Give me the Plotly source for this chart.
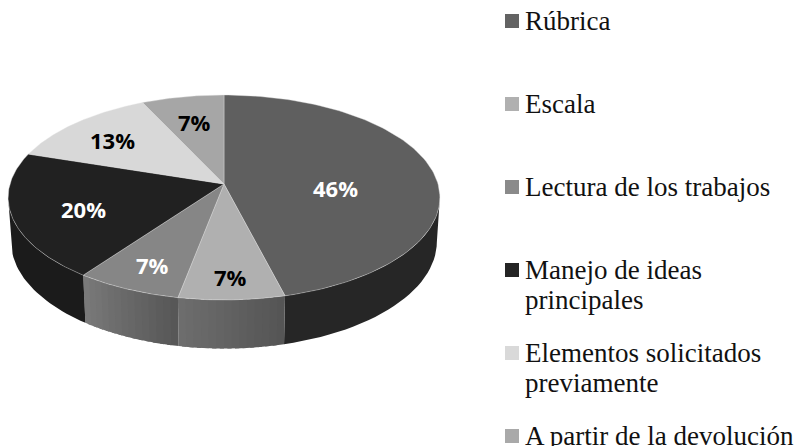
import numpy as np
import plotly.graph_objects as go

# ---- data ----
categories = ["Rúbrica", "Escala", "Lectura de los trabajos",
              "Manejo de ideas<br>principales",
              "Elementos solicitados<br>previamente",
              "A partir de la devolución"]
values = [46, 7, 7, 20, 13, 7]

# ---- styles ----
top_colors = ["#5f5f5f", "#b0b0b0", "#868686", "#212121", "#d8d8d8", "#a6a6a6"]
wall_left = [(38, 38, 38), (110, 110, 110), (122, 122, 122), (27, 27, 27), (200, 200, 200), (150, 150, 150)]
wall_right = [(38, 38, 38), (84, 84, 84), (86, 86, 86), (27, 27, 27), (200, 200, 200), (150, 150, 150)]
swatch_colors = ["#636363", "#b0b0b0", "#8a8a8a", "#242424", "#d9d9d9", "#a9a9a9"]
label_colors = ["white", "black", "white", "white", "black", "black"]
label_radius = [0.52, 0.82, 0.79, 0.68, 0.72, 0.69]
label_shift = [11.5, 0, -1, -2.6, -1.3, 0.2]

CX, CY, A, B, K = 224, 184, 214, 100.7, 0.1317
H, M = 44.5, 0.014
VIS_FROM, VIS_TO = 97.6, 262.4
LEG_SWATCH_X, LEG_TEXT_X = 512, 523
LEG_Y = [21, 104, 187, 270, 353, 436]
LINE_H = 30


def project(deg, r=1.0, z=0.0):
    t = np.radians(deg)
    u, v = r * np.sin(t), -r * np.cos(t)
    d = 1 - K * v + (M if z else 0)
    return CX + A * u / d, CY + (B * v + z * H) / d


total = sum(values)
edges = np.cumsum([0] + values) / total * 360
fig = go.Figure()


def poly(xs, ys, color, lw=0.0, line=None):
    fig.add_trace(go.Scatter(x=xs, y=ys, mode="lines", fill="toself", fillcolor=color,
                             line=dict(color=line or color, width=lw),
                             hoverinfo="skip", showlegend=False))


# side walls, in thin strips so that the shading can change along the rim
for i in range(len(values)):
    a0, a1 = max(edges[i], VIS_FROM), min(edges[i + 1], VIS_TO)
    if a1 <= a0:
        continue
    n = 14 if wall_left[i] != wall_right[i] else 1
    steps = np.linspace(a0, a1, n + 1)
    for j in range(n):
        f = (j + 0.5) / n
        c = [round(wall_right[i][m] + (wall_left[i][m] - wall_right[i][m]) * f) for m in range(3)]
        end = a1 if j == n - 1 else steps[j + 1] + 1.0
        ang = np.linspace(steps[j], end, 30)
        xt, yt = project(ang)
        xb, yb = project(ang[::-1], z=1)
        poly(np.r_[xt, xb, xt[0]], np.r_[yt, yb, yt[0]], f"rgb({c[0]},{c[1]},{c[2]})")

# top face
for i in range(len(values)):
    ang = np.linspace(edges[i], edges[i + 1], 120)
    xs, ys = project(ang)
    poly(np.r_[CX, xs, CX], np.r_[CY, ys, CY], top_colors[i], lw=0.7,
         line="rgba(225,225,225,0.55)")

# percentage labels
annotations = []
for i, val in enumerate(values):
    mid = (edges[i] + edges[i + 1]) / 2 + label_shift[i]
    x, y = project(mid, label_radius[i])
    annotations.append(dict(x=float(x), y=float(y), xref="x", yref="y", showarrow=False,
                            text=f"<b>{round(val / total * 100)}%</b>",
                            font=dict(family="Open Sans", size=22, color=label_colors[i])))

# legend
fig.add_trace(go.Scatter(x=[LEG_SWATCH_X] * len(LEG_Y), y=LEG_Y, mode="markers",
                         marker=dict(symbol="square", size=14, color=swatch_colors, line_width=0),
                         hoverinfo="skip", showlegend=False))
for name, ly in zip(categories, LEG_Y):
    for k, part in enumerate(name.split("<br>")):
        annotations.append(dict(x=LEG_TEXT_X, y=ly + k * LINE_H, xref="x", yref="y",
                                xanchor="left", showarrow=False, text=part,
                                font=dict(family="Liberation Serif", size=27, color="#111111")))

fig.update_layout(width=798, height=446, autosize=False,
                  margin=dict(l=0, r=0, t=0, b=0),
                  paper_bgcolor="white", plot_bgcolor="white",
                  showlegend=False, annotations=annotations,
                  xaxis=dict(range=[0, 798], visible=False, fixedrange=True),
                  yaxis=dict(range=[446, 0], visible=False, fixedrange=True))
fig.write_html("out.html", config={"displayModeBar": False},
               post_script="document.body.style.margin='0';document.body.style.overflow='hidden';")
